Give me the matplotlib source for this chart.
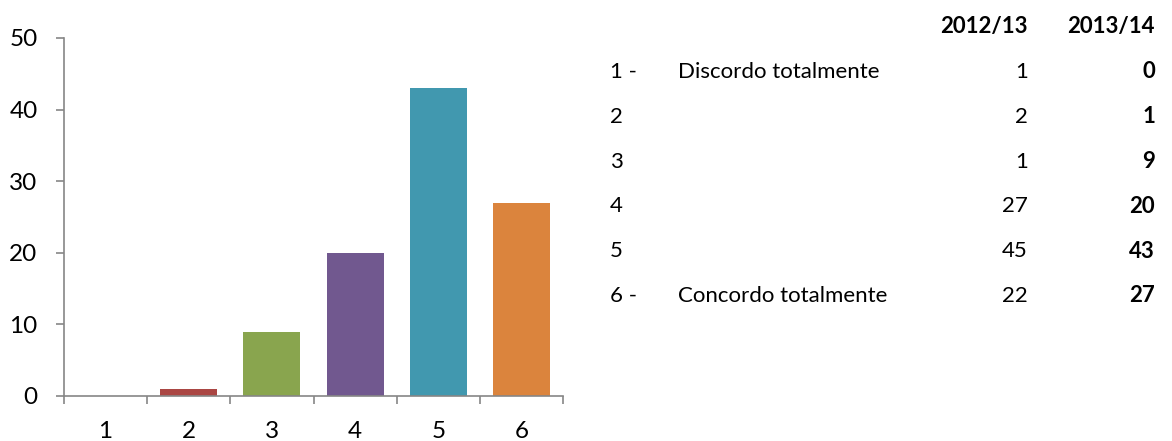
"""Likert-scale response counts: bar chart for 2013/14 with a small comparison table."""

import matplotlib.pyplot as plt
import numpy as np

plt.rcParams["font.family"] = ["Lato", "DejaVu Sans"]

# Responses per scale point, 2013/14 (bars) and both years (table)
SCALE = [1, 2, 3, 4, 5, 6]
COUNTS_2013_14 = [0, 1, 9, 20, 43, 27]
COUNTS_2012_13 = [1, 2, 1, 27, 45, 22]
ROW_LABELS = ["1 -", "2", "3", "4", "5", "6 -"]
ROW_TEXT = ["Discordo totalmente", "", "", "", "", "Concordo totalmente"]
YEAR_HEADERS = ["2012/13", "2013/14"]
Y_TICKS = [0, 10, 20, 30, 40, 50]

BAR_COLORS = ["#4572A7", "#AA4643", "#89A54E", "#71588F", "#4198AF", "#DB843D"]
AXIS_GREY = "#868686"

W, H = 1172, 441
fig = plt.figure(figsize=(W / 100, H / 100), dpi=100)
ax = fig.add_axes([64 / W, 45 / H, (563 - 64) / W, (396 - 38) / H])

x = np.array(SCALE)
ax.bar(x, COUNTS_2013_14, width=0.685, color=BAR_COLORS, zorder=2)

ax.set_xlim(0.5, 6.5)
ax.set_ylim(0, 50)
ax.set_yticks(Y_TICKS)
ax.set_xticks(x)
ax.set_xticklabels([str(s) for s in SCALE])
ax.set_xticks(np.arange(0.5, 6.6, 1.0), minor=True)

for side in ("top", "right"):
    ax.spines[side].set_visible(False)
for side in ("left", "bottom"):
    ax.spines[side].set_color(AXIS_GREY)
    ax.spines[side].set_linewidth(1.2)

ax.tick_params(axis="x", which="major", length=0, pad=18, labelsize=17.5)
ax.tick_params(axis="x", which="minor", length=6, width=1.2, color=AXIS_GREY, direction="out")
ax.tick_params(axis="y", which="major", length=6, width=1.2, color=AXIS_GREY,
               direction="out", pad=13, labelsize=17.5)

# comparison table on the right (pixel layout -> figure fractions)
fs = 16
col_right = [1028, 1155]
header_y = 26
row_y0, row_step = 72, 44.8
for j, head in enumerate(YEAR_HEADERS):
    fig.text(col_right[j] / W, 1 - header_y / H, head, ha="right", va="center",
             fontsize=fs, fontweight="bold")

for i in range(len(SCALE)):
    yy = 1 - (row_y0 + i * row_step) / H
    fig.text(610 / W, yy, ROW_LABELS[i], ha="left", va="center", fontsize=fs)
    if ROW_TEXT[i]:
        fig.text(678 / W, yy, ROW_TEXT[i], ha="left", va="center", fontsize=fs)
    fig.text(col_right[0] / W, yy, str(COUNTS_2012_13[i]), ha="right", va="center",
             fontsize=fs)
    fig.text(col_right[1] / W, yy, str(COUNTS_2013_14[i]), ha="right", va="center",
             fontsize=fs, fontweight="bold")

fig.savefig("out.png", dpi=100)
plt.close(fig)
